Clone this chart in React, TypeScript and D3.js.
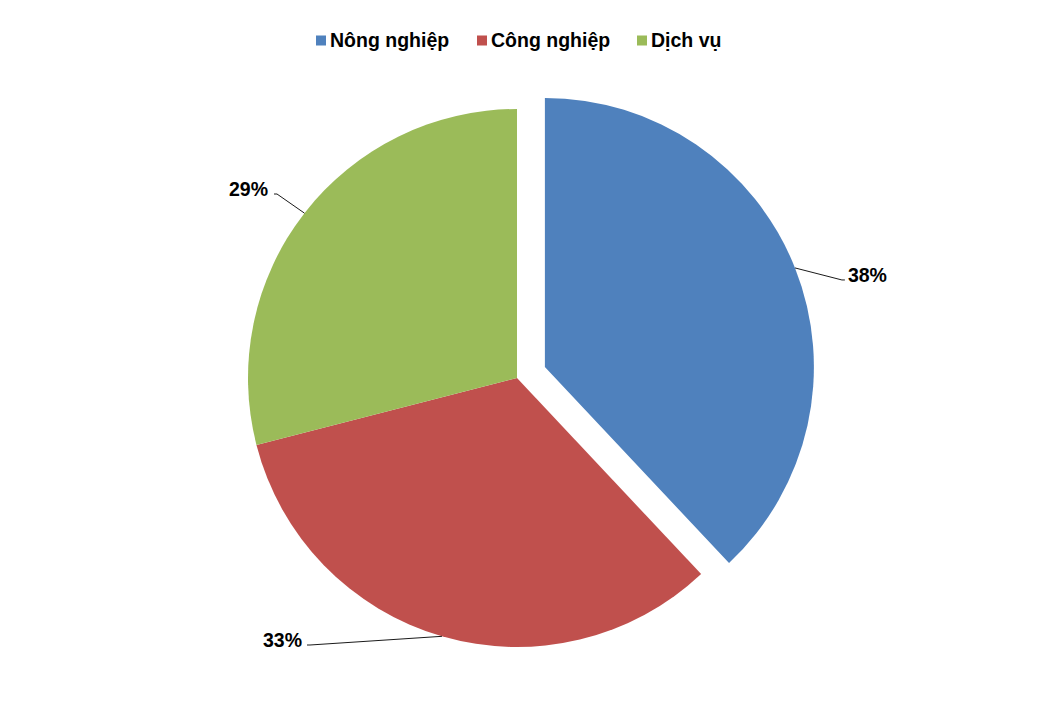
import React from "react";
import * as d3 from "d3";

const categories = ["Nông nghiệp", "Công nghiệp", "Dịch vụ"];
const values = [38, 33, 29];
const labels = ["38%", "33%", "29%"];
const colors = ["#4F81BD", "#C0504D", "#9BBB59"];

// layout (pixels)
const W = 1043;
const H = 723;
const CX = 517;
const CY = 378;
const R = 269;
const EXPLODE = [30, 0, 0];
// label elbow offsets relative to slice centre + text anchor side
const labelLayout = [
  { ex: 297, ey: -87, side: 1, gap: 3 },
  { ex: -207, ey: 267, side: -1, gap: 5 },
  { ex: -240, ey: -184, side: -1, gap: 6 },
];
const legendX = [316, 477, 637];

export default function App() {
  const pie = d3.pie<number>().sort(null).value((d) => d).startAngle(0).endAngle(2 * Math.PI);
  const arcs = pie(values);
  const arcGen = d3.arc<d3.PieArcDatum<number>>().innerRadius(0).outerRadius(R);
  const font = "'Liberation Sans', Arial, sans-serif";

  return (
    <svg
      width={W}
      height={H}
      style={{ position: "absolute", left: 0, top: 0, background: "#fff" }}
    >
      {/* legend */}
      {categories.map((c, i) => (
        <g key={c}>
          <rect x={legendX[i]} y={35.5} width={10} height={10} fill={colors[i]} />
          <text
            x={legendX[i] + 14}
            y={46.5}
            fontFamily={font}
            fontWeight="bold"
            fontSize={19.5}
            fill="#000"
          >
            {c}
          </text>
        </g>
      ))}
      {arcs.map((a, i) => {
        const mid = (a.startAngle + a.endAngle) / 2;
        const ox = Math.sin(mid) * EXPLODE[i];
        const oy = -Math.cos(mid) * EXPLODE[i];
        const cx = CX + ox;
        const cy = CY + oy;
        const px = cx + Math.sin(mid) * R;
        const py = cy - Math.cos(mid) * R;
        const L = labelLayout[i];
        const exx = cx + L.ex;
        const eyy = cy + L.ey;
        const hx = exx + L.side * 3;
        return (
          <g key={i}>
            <path d={arcGen(a) || ""} transform={`translate(${cx},${cy})`} fill={colors[i]} />
            <polyline
              points={`${px},${py} ${exx},${eyy} ${hx},${eyy}`}
              fill="none"
              stroke="#000"
              strokeWidth={0.9}
            />
            <text
              x={hx + L.side * L.gap}
              y={eyy + 2}
              textAnchor={L.side > 0 ? "start" : "end"}
              fontFamily={font}
              fontWeight="bold"
              fontSize={19.5}
              fill="#000"
            >
              {labels[i]}
            </text>
          </g>
        );
      })}
    </svg>
  );
}
